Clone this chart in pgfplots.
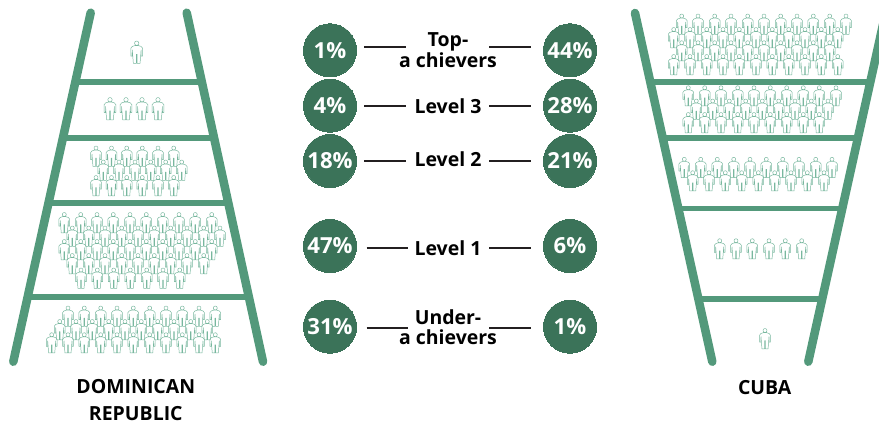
\documentclass[border=0pt]{standalone}
\usepackage{fontspec}
\setmainfont{Open Sans}
\usepackage{pgfplots}
\pgfplotsset{compat=1.18}

\definecolor{rail}{HTML}{53997B}
\definecolor{badge}{HTML}{3B7359}
\definecolor{figure}{HTML}{78B79E}
\definecolor{ink}{HTML}{231F20}

% Outline of one person, centred on the data point
\newcommand{\pl}[2]{\pgfpathlineto{\pgfqpoint{#1pt}{#2pt}}}
\pgfdeclareplotmark{person}{%
  \pgfpathcircle{\pgfqpoint{0pt}{6.0pt}}{1.5pt}%
  \pgfpathmoveto{\pgfqpoint{-1.1pt}{4.4pt}}%
  \pl{-3.0}{3.8}\pl{-4.0}{2.6}\pl{-4.0}{-2.8}\pl{-3.1}{-2.8}\pl{-3.0}{1.4}%
  \pl{-2.3}{-7.7}\pl{-0.3}{-7.7}\pl{-0.3}{-1.6}\pl{0.3}{-1.6}\pl{0.3}{-7.7}\pl{2.3}{-7.7}%
  \pl{3.0}{1.4}\pl{3.1}{-2.8}\pl{4.0}{-2.8}\pl{4.0}{2.6}\pl{3.0}{3.8}\pl{1.1}{4.4}%
  \pgfpathclose
  \pgfusepathqstroke
}

\pgfplotsset{
  people/.style={only marks, mark=person, mark size=1pt,
    mark options={draw=figure, line width=0.36pt, line join=round, scale=#1}},
  people/.default=1,
  railline/.style={rail, line width=6.4pt, line cap=round},
  rung/.style={rail, line width=4.4pt},
  leader/.style={ink, line width=1.5pt},
}
\tikzset{
  levelname/.style={anchor=base, font=\bfseries\fontsize{14.6}{16}\selectfont, text=black, inner sep=0pt},
}

\begin{document}
\begin{tikzpicture}
\useasboundingbox (0,0) rectangle (659.25pt,318.75pt);
\begin{axis}[
  scale only axis, width=659.25pt, height=318.75pt,
  xmin=0, xmax=879, ymin=0, ymax=425, y dir=reverse,
  axis lines=none, clip=true,
]
% Dominican Republic ladder
\addplot[railline] coordinates {(90.7,12.7) (13.3,361.7)};
\addplot[railline] coordinates {(186.7,12.7) (263,361.7)};
\addplot[rung] coordinates {(75.4,81.7) (202,81.7)};
\addplot[rung] coordinates {(63,137.7) (214.4,137.7)};
\addplot[rung] coordinates {(48.4,203.3) (229,203.3)};
\addplot[rung] coordinates {(27.7,296.7) (249.7,296.7)};
% Cuba ladder
\addplot[railline] coordinates {(635,13) (712.3,361.7)};
\addplot[railline] coordinates {(885.6,13) (808.3,361.7)};
\addplot[rung] coordinates {(650.2,81.7) (870.4,81.7)};
\addplot[rung] coordinates {(662.7,137.7) (858,137.7)};
\addplot[rung] coordinates {(678.4,208.5) (842.3,208.5)};
\addplot[rung] coordinates {(698.4,299) (822.3,299)};

% Dominican Republic: figures per level
\addplot[people=1.1] coordinates {(136.7,52)
  (110,108.5) (126,108.5) (142,108.5) (158,108.5)};
\addplot[people] table {
x y
96 156
111.5 156
126.7 156
142.3 156
158 156
173.7 156
103.3 170
119 170
135 170
150.7 170
165.7 170
181.7 170
96 185.5
111.5 185.5
126.7 185.5
142.3 185.5
158 185.5
173.7 185.5
};
\addplot[people] table {
x y
64.3 222.5
80.7 222.5
97 222.5
113.3 222.5
130 222.5
146.3 222.5
162.7 222.5
179 222.5
195.3 222.5
211.7 222.5
72.3 236
88.7 236
105 236
121.7 236
138 236
154.3 236
170.7 236
187 236
203.7 236
220 236
64.3 249.5
80.7 249.5
97 249.5
113.3 249.5
130 249.5
146.3 249.5
162.7 249.5
179 249.5
195.3 249.5
211.7 249.5
72.3 263.5
88.7 263.5
105 263.5
121.7 263.5
138 263.5
154.3 263.5
170.7 263.5
187 263.5
203.7 263.5
81 278
97.3 278
113.7 278
130.3 278
146.7 278
163 278
179.7 278
};
\addplot[people] table {
x y
68 316
84.3 316
100.7 316
117 316
133.3 316
149.7 316
166 316
182.3 316
199 316
215.3 316
59.7 329.5
76 329.5
92.3 329.5
108.7 329.5
125 329.5
141.3 329.5
157.7 329.5
174 329.5
190.7 329.5
207.3 329.5
51.7 342.7
68 342.7
84.3 342.7
100.7 342.7
117 342.7
133.3 342.7
149.7 342.7
166 342.7
182.3 342.7
199 342.7
215.3 342.7
};

% Cuba: figures per level
\addplot[people] table {
x y
681.7 24
698 24
714.7 24
731 24
747.7 24
764 24
780.7 24
797 24
813.3 24
829.7 24
846 24
673.7 37.5
690 37.5
706.7 37.5
723 37.5
739.3 37.5
756 37.5
772.3 37.5
788.7 37.5
805 37.5
821.3 37.5
837.7 37.5
681.7 50.7
698 50.7
714.7 50.7
731 50.7
747.7 50.7
764 50.7
780.7 50.7
797 50.7
813.3 50.7
829.7 50.7
673.7 64.5
690 64.5
706.7 64.5
723 64.5
739.3 64.5
756 64.5
772.3 64.5
788.7 64.5
805 64.5
821.3 64.5
837.7 64.5
};
\addplot[people] table {
x y
688.3 95.7
704.7 95.7
721 95.7
737.7 95.7
754 95.7
770.3 95.7
786.7 95.7
803.3 95.7
819.3 95.7
836 95.7
696.3 109
712.7 109
729.3 109
745.7 109
762.3 109
778.7 109
795 109
811.3 109
828 109
688.3 122.5
704.7 122.5
721 122.5
737.7 122.5
754 122.5
770.3 122.5
786.7 122.5
803.3 122.5
819.3 122.5
};
\addplot[people] table {
x y
684.3 167.3
700.7 167.3
717.3 167.3
733.7 167.3
750 167.3
766.3 167.3
782.7 167.3
799 167.3
815.7 167.3
832 167.3
692.7 180.7
709 180.7
725.3 180.7
741.7 180.7
758.3 180.7
774.7 180.7
791 180.7
807.3 180.7
824 180.7
};
\addplot[people] coordinates {(719.7,248.7) (736,248.7) (752.3,248.7) (769,248.7) (785.3,248.7) (801.7,248.7)
  (765,338.5)};

% Leader lines between the badges and the level names
\addplot[leader] coordinates {(364.3,47) (406,47)};
\addplot[leader] coordinates {(489,47) (530.7,47)};
\addplot[leader] coordinates {(364.3,106) (406,106)};
\addplot[leader] coordinates {(489,106) (530.7,106)};
\addplot[leader] coordinates {(364.3,161) (406,161)};
\addplot[leader] coordinates {(489,161) (530.7,161)};
\addplot[leader] coordinates {(366.7,248.3) (408.3,248.3)};
\addplot[leader] coordinates {(489,248.3) (530.7,248.3)};
\addplot[leader] coordinates {(366.7,327.7) (408.3,327.7)};
\addplot[leader] coordinates {(489,327.7) (530.7,327.7)};

% Percentage badges
\addplot[only marks, mark=*, mark size=19.9pt,
  mark options={draw=badge, line width=0pt, fill=badge},
  point meta=explicit symbolic,
  nodes near coords={\pgfplotspointmeta\%},
  every node near coord/.append style={anchor=center, inner sep=0pt, text=white,
    font=\bfseries\fontsize{16.6}{18}\selectfont},
] table[meta=share] {
x y share
330 50.3 1
330 105.7 4
330 161 18
330 246 47
330 326.7 31
570 50.3 44
570 105.7 28
570 161 21
570 246 6
570 326.7 1
};

% Level names and country names
\node[levelname] at (axis cs:448,46.7) {Top-};
\node[levelname] at (axis cs:448,67.7) {a chievers};
\node[levelname] at (axis cs:448,113.3) {Level 3};
\node[levelname] at (axis cs:448,166.7) {Level 2};
\node[levelname] at (axis cs:448,255.7) {Level 1};
\node[levelname] at (axis cs:448,324) {Under-};
\node[levelname] at (axis cs:448,344.3) {a chievers};
\node[levelname] at (axis cs:135.8,393.3) {DOMINICAN};
\node[levelname] at (axis cs:135.8,420) {REPUBLIC};
\node[levelname] at (axis cs:764.7,394) {CUBA};
\end{axis}
\end{tikzpicture}
\end{document}
